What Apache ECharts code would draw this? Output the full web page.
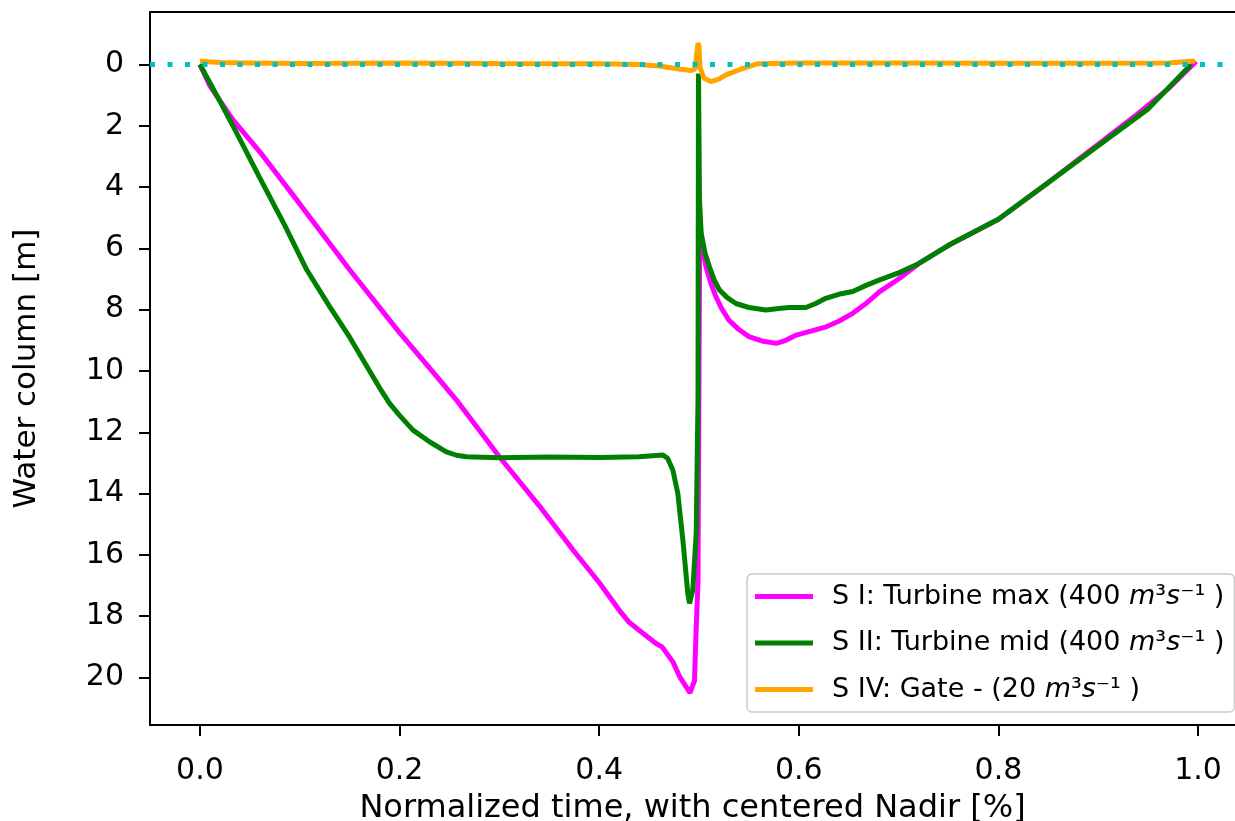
<!DOCTYPE html>
<html>
<head>
<meta charset="utf-8">
<script src="https://cdn.jsdelivr.net/npm/echarts@6/dist/echarts.min.js"></script>
<style>
  html, body { margin: 0; padding: 0; background: #fff; overflow: hidden; }
  #main { width: 1235px; height: 821px; }
</style>
</head>
<body>
<div id="main"></div>
<script>
// S I: Turbine max
var siX = [0, 0.01, 0.033, 0.06, 0.1, 0.15, 0.2, 0.23, 0.257, 0.3, 0.34, 0.374, 0.4, 0.42, 0.43, 0.44, 0.457, 0.463, 0.474, 0.481, 0.487, 0.491, 0.4955, 0.497, 0.499, 0.5, 0.5008, 0.503, 0.507, 0.512, 0.517, 0.523, 0.53, 0.54, 0.55, 0.563, 0.5775, 0.587, 0.5975, 0.612, 0.6275, 0.64, 0.654, 0.668, 0.681, 0.7, 0.72, 0.75, 0.8, 0.85, 0.9, 0.94, 0.97, 0.998];
var siY = [0, 0.7, 1.8, 2.85, 4.55, 6.7, 8.75, 9.9, 10.95, 12.8, 14.4, 15.85, 16.9, 17.8, 18.2, 18.46, 18.89, 19.0, 19.5, 20.0, 20.3, 20.5, 20.1, 18.56, 16.9, 10.0, 5.2, 5.9, 6.6, 7.15, 7.58, 7.98, 8.34, 8.65, 8.88, 9.02, 9.1, 9.0, 8.83, 8.7, 8.56, 8.38, 8.12, 7.78, 7.41, 7.0, 6.5, 5.9, 5.05, 3.85, 2.6, 1.6, 0.8, -0.1];

// S II: Turbine mid
var siiX = [0, 0.01, 0.02, 0.033, 0.06, 0.085, 0.107, 0.13, 0.15, 0.17, 0.18, 0.19, 0.2, 0.2135, 0.23, 0.2469, 0.257, 0.2669, 0.3, 0.35, 0.4, 0.44, 0.4638, 0.4685, 0.4738, 0.4788, 0.4838, 0.4888, 0.4905, 0.4938, 0.4972, 0.499, 0.4995, 0.5, 0.5005, 0.5022, 0.506, 0.5105, 0.5155, 0.5205, 0.528, 0.537, 0.55, 0.567, 0.58, 0.5906, 0.607, 0.617, 0.627, 0.64, 0.654, 0.668, 0.681, 0.7, 0.72, 0.75, 0.8, 0.85, 0.9, 0.95, 0.993];
var siiY = [0, 0.6, 1.2, 2.0, 3.7, 5.25, 6.7, 7.9, 8.9, 10.0, 10.55, 11.06, 11.45, 11.93, 12.31, 12.64, 12.75, 12.8, 12.83, 12.81, 12.82, 12.8, 12.74, 12.85, 13.23, 14.0, 15.5, 17.26, 17.58, 17.15, 15.3, 10.95, 0.3, 0.3, 4.4, 5.5, 6.15, 6.6, 7.05, 7.36, 7.6, 7.8, 7.93, 8.01, 7.96, 7.93, 7.93, 7.8, 7.63, 7.5, 7.41, 7.2, 7.03, 6.8, 6.5, 5.9, 5.05, 3.85, 2.65, 1.45, 0];

// S IV: Gate
var sivX = [0, 0.02, 0.05, 0.1, 0.2, 0.3, 0.4, 0.44, 0.46, 0.48, 0.492, 0.496, 0.498, 0.499, 0.5, 0.501, 0.505, 0.512, 0.52, 0.527, 0.54, 0.558, 0.6, 0.7, 0.8, 0.9, 0.97, 0.997];
var sivY = [-0.1, -0.06, -0.05, -0.03, -0.05, -0.03, -0.02, 0.0, 0.05, 0.15, 0.2, 0.15, -0.4, -0.7, -0.6, 0.1, 0.45, 0.56, 0.48, 0.34, 0.18, -0.02, -0.05, -0.05, -0.04, -0.04, -0.05, -0.11];

var xTicks = [0, 0.2, 0.4, 0.6, 0.8, 1.0];
var yTicks = [0, 2, 4, 6, 8, 10, 12, 14, 16, 18, 20];
var names = ['S I: Turbine max', 'S II: Turbine mid', 'S IV: Gate -'];
var flows = ['400', '400', '20'];

// the original axes run slightly past the right edge of the image,
// so the visible x range stops at about 1.037
var xMin = -0.05, xMax = 1.037;
var yMin = -1.71, yMax = 21.55;

function pairs(xs, ys) {
    return xs.map(function (x, i) { return [x, ys[i]]; });
}

var chart = echarts.init(document.getElementById('main'));
var font = 'DejaVu Sans';
var axisLine = { show: true, onZero: false, lineStyle: { color: '#000', width: 2 } };

var option = {
    backgroundColor: '#fff',
    animation: false,
    textStyle: { fontFamily: font },
    grid: {
        left: 150,
        top: 12,
        right: 0,
        bottom: 96,
        outerBoundsMode: 'none',
        containLabel: false
    },
    legend: {
        data: names,
        orient: 'vertical',
        left: 747,
        top: 574,
        icon: 'rect',
        itemWidth: 58,
        itemHeight: 5,
        itemGap: 19.5,
        padding: [9, 10, 9, 8],
        backgroundColor: 'rgba(255,255,255,0.85)',
        borderColor: '#cccccc',
        borderWidth: 1.5,
        borderRadius: 5,
        formatter: function (name) {
            var i = names.indexOf(name);
            return '{n|' + name + ' (' + flows[i] + ' }{it|m}{n|³}{it|s}{n|⁻¹ )}';
        },
        textStyle: {
            fontFamily: font,
            fontSize: 27,
            color: '#000',
            padding: [0, 0, 0, 14],
            rich: {
                n: { fontFamily: font, fontSize: 27, color: '#000', lineHeight: 30 },
                it: { fontFamily: font, fontSize: 27, fontStyle: 'italic', color: '#000', lineHeight: 30 }
            }
        }
    },
    xAxis: [
        {
            type: 'value',
            min: xMin,
            max: xMax,
            name: 'Normalized time, with centered Nadir [%]',
            nameLocation: 'middle',
            nameGap: 68,
            nameTextStyle: { fontFamily: font, fontSize: 32, color: '#000' },
            axisLine: axisLine,
            splitLine: { show: false },
            axisTick: {
                show: true,
                length: 11,
                customValues: xTicks,
                lineStyle: { color: '#000', width: 2 }
            },
            axisLabel: {
                customValues: xTicks,
                margin: 31,
                fontFamily: font,
                fontSize: 30,
                color: '#000',
                formatter: function (v) { return v.toFixed(1); }
            }
        },
        {
            // top frame line only
            type: 'value',
            position: 'top',
            min: xMin,
            max: xMax,
            axisLine: axisLine,
            axisTick: { show: false },
            axisLabel: { show: false },
            splitLine: { show: false }
        }
    ],
    yAxis: {
        type: 'value',
        inverse: true,
        min: yMin,
        max: yMax,
        name: 'Water column [m]',
        nameLocation: 'middle',
        nameGap: 108,
        nameRotate: 90,
        nameTextStyle: { fontFamily: font, fontSize: 31, color: '#000' },
        axisLine: axisLine,
        splitLine: { show: false },
        axisTick: {
            show: true,
            length: 11,
            customValues: yTicks,
            lineStyle: { color: '#000', width: 2 }
        },
        axisLabel: {
            customValues: yTicks,
            margin: 26,
            fontFamily: font,
            fontSize: 30,
            color: '#000'
        }
    },
    series: [
        {
            name: names[0],
            type: 'line',
            data: pairs(siX, siY),
            showSymbol: false,
            symbol: 'none',
            color: '#ff00ff',
            lineStyle: { color: '#ff00ff', width: 5 },
            z: 2
        },
        {
            name: names[1],
            type: 'line',
            data: pairs(siiX, siiY),
            showSymbol: false,
            symbol: 'none',
            color: '#008000',
            lineStyle: { color: '#008000', width: 5 },
            z: 3
        },
        {
            name: names[2],
            type: 'line',
            data: pairs(sivX, sivY),
            showSymbol: false,
            symbol: 'none',
            color: '#ffa500',
            lineStyle: { color: '#ffa500', width: 5 },
            z: 4
        },
        {
            // dotted reference line at 0
            name: 'zero',
            type: 'line',
            data: [[xMin, 0], [xMax, 0]],
            showSymbol: false,
            symbol: 'none',
            color: '#00bfbf',
            lineStyle: { color: '#00bfbf', width: 5, type: [5, 12.5], cap: 'butt' },
            z: 5
        }
    ]
};

chart.setOption(option);
</script>
</body>
</html>
